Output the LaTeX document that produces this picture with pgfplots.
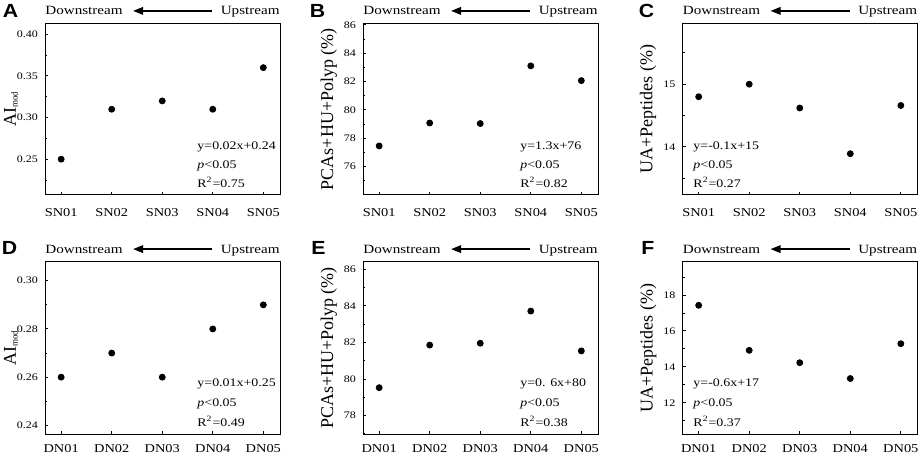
\documentclass[border=0pt]{standalone}
\usepackage{fontspec}
\setmainfont{Liberation Serif}[FakeStretch=1.2]
\newfontfamily\ylabfont{Liberation Serif}
\newfontfamily\panelfont{Liberation Sans}[FakeStretch=1.12]
\usepackage{pgfplots}
\pgfplotsset{compat=1.18}
\usetikzlibrary{arrows.meta}

\pgfplotsset{
 panel/.style={
  scale only axis, width=117.5pt, anchor=south west,
  xmin=-0.32, xmax=4.33,
  xtick={0,1,2,3,4},
  tick align=inside, xtick pos=bottom, ytick pos=left,
  major tick length=1.6pt, minor tick length=1pt,
  axis line style={line width=0.5pt},
  every tick/.style={black, line width=0.5pt},
  /pgf/number format/assume math mode=true,
  xticklabel style={font=\fontsize{6}{7}\selectfont},
  yticklabel style={font=\fontsize{5}{6}\selectfont},
  every axis y label/.style={rotate=90, anchor=center, font=\ylabfont\fontsize{9}{10}\selectfont},
  clip=false,
 },
 rowone/.style={height=85.75pt, xticklabel style={yshift=-3.3pt}},
 rowtwo/.style={height=86.3pt, xticklabel style={yshift=-1.6pt}},
 twodec/.style={y tick label style={/pgf/number format/fixed, /pgf/number format/fixed zerofill, /pgf/number format/precision=2}},
}
\newcommand{\annot}[3]{%
 \node[anchor=base west, inner sep=0, font=\fontsize{5.8}{6}\selectfont] at (rel axis cs:#1,#2) {#3};
}
\newcommand{\header}[1]{%
 \node[anchor=base west, inner sep=0, font=\fontsize{6.3}{7}\selectfont] (ds#1) at ([yshift=4.3pt]#1.north west) {Downstream};
 \node[anchor=base east, inner sep=0, font=\fontsize{6.3}{7}\selectfont] (us#1) at ([yshift=4.3pt]#1.north east) {Upstream};
 \draw[line width=0.7pt, -{Triangle[length=5pt,width=3.8pt]}] ([xshift=-4pt,yshift=2pt]us#1.base west) -- ([xshift=5pt,yshift=2pt]ds#1.base east);
}
\newcommand{\plabel}[3]{%
 \node[anchor=base west, inner sep=0, font=\panelfont\bfseries\fontsize{9.5}{10}\selectfont] at (#1,#2) {#3};
}
\newcommand{\AImod}{AI\raisebox{-0.2ex}{\fontsize{4.5}{5}\selectfont mod}}

\begin{document}
\begin{tikzpicture}
\path[use as bounding box] (0,0) rectangle (460pt,227.5pt);

% ---------- A ----------
\begin{axis}[panel, rowone, name=A, at={(22.5pt,130pt)},
  ymin=0.207, ymax=0.413, ytick={0.25,0.30,0.35,0.40}, minor ytick={0.225,0.275,0.325,0.375},
  twodec, xticklabels={SN01,SN02,SN03,SN04,SN05},
  ylabel={\AImod},
  ylabel style={at={(axis description cs:-0.145,0.5)}}]
\addplot[only marks, mark=*, mark size=1.5pt, black] coordinates {(0,0.25) (1,0.31) (2,0.32) (3,0.31) (4,0.36)};
\annot{0.647}{0.266}{y=0.02x+0.24}
\annot{0.647}{0.156}{\textit{p}<0.05}
\annot{0.647}{0.043}{R\textsuperscript{2}=0.75}
\end{axis}
\header{A}

% ---------- B ----------
\begin{axis}[panel, rowone, name=B, at={(181.5pt,130pt)},
  ymin=74.0, ymax=86.1, ytick={76,78,80,82,84,86}, minor ytick={75,77,79,81,83,85},
  xticklabels={SN01,SN02,SN03,SN04,SN05},
  ylabel={PCAs+HU+Polyp (\%)},
  ylabel style={at={(axis description cs:-0.145,0.5)}}]
\addplot[only marks, mark=*, mark size=1.5pt, black] coordinates {(0,77.46) (1,79.08) (2,79.04) (3,83.11) (4,82.07)};
\annot{0.668}{0.266}{y=1.3x+76}
\annot{0.668}{0.156}{\textit{p}<0.05}
\annot{0.668}{0.043}{R\textsuperscript{2}=0.82}
\end{axis}
\header{B}

% ---------- C ----------
\begin{axis}[panel, rowone, name=C, at={(341.25pt,130pt)},
  ymin=13.23, ymax=15.97, ytick={14,15}, minor ytick={13.5,14.5,15.5},
  xticklabels={SN01,SN02,SN03,SN04,SN05},
  ylabel={UA+Peptides (\%)},
  ylabel style={at={(axis description cs:-0.147,0.5)}}]
\addplot[only marks, mark=*, mark size=1.5pt, black] coordinates {(0,14.80) (1,15.00) (2,14.62) (3,13.89) (4,14.66)};
\annot{0.045}{0.266}{y=-0.1x+15}
\annot{0.045}{0.156}{\textit{p}<0.05}
\annot{0.045}{0.043}{R\textsuperscript{2}=0.27}
\end{axis}
\header{C}

% ---------- D ----------
\begin{axis}[panel, rowtwo, name=D, at={(22.5pt,10.35pt)},
  ymin=0.2363, ymax=0.3079, ytick={0.24,0.26,0.28,0.30}, minor ytick={0.25,0.27,0.29},
  twodec, xticklabels={DN01,DN02,DN03,DN04,DN05},
  ylabel={\AImod},
  ylabel style={at={(axis description cs:-0.145,0.5)}}]
\addplot[only marks, mark=*, mark size=1.5pt, black] coordinates {(0,0.26) (1,0.27) (2,0.26) (3,0.28) (4,0.29)};
\annot{0.647}{0.276}{y=0.01x+0.25}
\annot{0.647}{0.160}{\textit{p}<0.05}
\annot{0.647}{0.044}{R\textsuperscript{2}=0.49}
\end{axis}
\header{D}

% ---------- E ----------
\begin{axis}[panel, rowtwo, name=E, at={(181.5pt,10.35pt)},
  ymin=76.98, ymax=86.42, ytick={78,80,82,84,86}, minor ytick={77,79,81,83,85},
  xticklabels={DN01,DN02,DN03,DN04,DN05},
  ylabel={PCAs+HU+Polyp (\%)},
  ylabel style={at={(axis description cs:-0.145,0.5)}}]
\addplot[only marks, mark=*, mark size=1.5pt, black] coordinates {(0,79.53) (1,81.86) (2,81.96) (3,83.72) (4,81.54)};
\annot{0.668}{0.276}{y=0. 6x+80}
\annot{0.668}{0.160}{\textit{p}<0.05}
\annot{0.668}{0.044}{R\textsuperscript{2}=0.38}
\end{axis}
\header{E}

% ---------- F ----------
\begin{axis}[panel, rowtwo, name=F, at={(341.25pt,10.35pt)},
  ymin=10.24, ymax=19.86, ytick={12,14,16,18}, minor ytick={11,13,15,17,19},
  xticklabels={DN01,DN02,DN03,DN04,DN05},
  ylabel={UA+Peptides (\%)},
  ylabel style={at={(axis description cs:-0.146,0.5)}}]
\addplot[only marks, mark=*, mark size=1.5pt, black] coordinates {(0,17.43) (1,14.92) (2,14.23) (3,13.35) (4,15.29)};
\annot{0.045}{0.276}{y=-0.6x+17}
\annot{0.045}{0.160}{\textit{p}<0.05}
\annot{0.045}{0.044}{R\textsuperscript{2}=0.37}
\end{axis}
\header{F}

% panel letters
\plabel{1.25pt}{218.5pt}{A}
\plabel{154.7pt}{218.5pt}{B}
\plabel{319.2pt}{218.5pt}{C}
\plabel{0.8pt}{100pt}{D}
\plabel{155.5pt}{100pt}{E}
\plabel{320.5pt}{100pt}{F}
\end{tikzpicture}
\end{document}
